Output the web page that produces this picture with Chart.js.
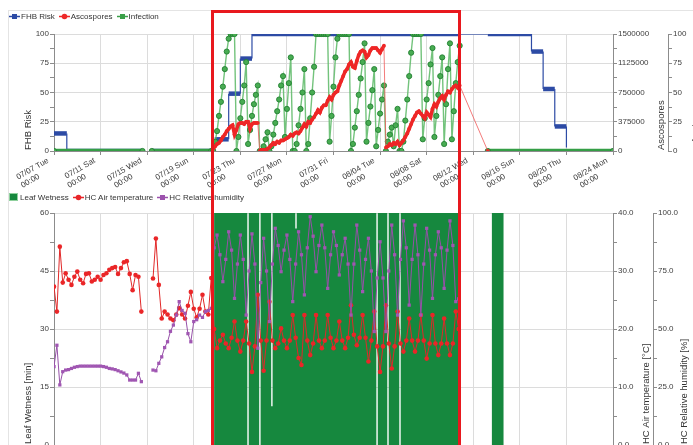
<!doctype html>
<html>
<head>
<meta charset="utf-8">
<title>FHB risk</title>
<script src="https://cdn.jsdelivr.net/npm/chart.js@4.4.1/dist/chart.umd.min.js"></script>
<style>
html, body {margin: 0; padding: 0; overflow: hidden; background: #fff}
body {position: relative; width: 693px; height: 445px; font: 8px "Liberation Sans", Arial, sans-serif; color: #333}
.panel {position: absolute; left: 8px; top: 10px; width: 700px; height: 500px; border-top: 1px solid #e4e4e4; border-left: 1px solid #e4e4e4}
.wrap {position: absolute; left: 0}
#top {top: 0; width: 703px; height: 196px}
#bottom {top: 200px; width: 693px; height: 300px}
.legend {position: absolute; left: 9px; height: 12px; display: flex; align-items: center; white-space: nowrap}
.legend span {display: flex; align-items: center; margin-right: 4px}
.legend svg {margin-right: 1px}
#box {position: absolute; left: 211px; top: 10px; width: 250px; height: 460px; border: 3px solid rgb(232, 24, 30); box-sizing: border-box}
</style>
</head>
<body>
<div class="panel"></div>
<div class="wrap" id="top"><canvas></canvas></div>
<div class="wrap" id="bottom"><canvas></canvas></div>
<div class="legend" style="top: 10px">
    <span><svg width="11" height="7"><line x1="0" y1="3.5" x2="11" y2="3.5" stroke="#2d4ba5" stroke-width="1.5"/><rect x="3" y="1" width="5" height="5" fill="#2d4ba5"/></svg>FHB Risk</span>
    <span><svg width="11" height="7"><line x1="0" y1="3.5" x2="11" y2="3.5" stroke="#ee2a2a" stroke-width="1.5"/><circle cx="5.5" cy="3.5" r="2.8" fill="#ee2a2a"/></svg>Ascospores</span>
    <span><svg width="11" height="7"><line x1="0" y1="3.5" x2="11" y2="3.5" stroke="#3aa048" stroke-width="1.5"/><rect x="3" y="1" width="5" height="5" fill="#3aa048"/></svg>Infection</span>
</div>
<div class="legend" style="top: 191px">
    <span><svg width="10" height="8"><rect x="0.5" y="0.5" width="8" height="7" fill="#16883e" stroke="#8fd09d"/></svg>Leaf Wetness</span>
    <span><svg width="11" height="7"><line x1="0" y1="3.5" x2="11" y2="3.5" stroke="#e8262a" stroke-width="1.5"/><circle cx="5.5" cy="3.5" r="2.8" fill="#e8262a"/></svg>HC Air temperature</span>
    <span><svg width="11" height="7"><line x1="0" y1="3.5" x2="11" y2="3.5" stroke="#9c52ad" stroke-width="1.5"/><rect x="3" y="1" width="5" height="5" fill="#9c52ad"/></svg>HC Relative humidity</span>
</div>
<div id="box"></div>
<script>
// x values are days after 07/07 00:00
let tickLabels = ['07/07 Tue', '07/11 Sat', '07/15 Wed', '07/19 Sun', '07/23 Thu', '07/27 Mon', '07/31 Fri',
    '08/04 Tue', '08/08 Sat', '08/12 Wed', '08/16 Sun', '08/20 Thu', '08/24 Mon']

// stretches with no records, drawn as a thin joining line
let dataGaps = [[34.83, 37.25]]

// FHB risk (%), change points
let riskDays = [0, 1.1, 1.1, 7.6, 8.0, 8.4, 13.8, 13.8, 15.0, 15.0, 16.0, 16.0, 17.0, 17.0, 34.83,
    37.25, 41.0, 41.0, 42.0, 42.0, 43.0, 43.0, 44.0, 44.0]
let riskValues = [15, 15, 0, 0, null, 0, 0, 10, 10, 49, 49, 79, 79, 100, 100,
    100, 100, 85, 85, 53, 53, 21, 21, 3]

// infection and ascospores inside the marked period, one value every 4 hours from day 13.5
let boxStart = 13.5
let infection = [
    0, 0, 8,
    17, 30, 42, 55, 70, 85,
    96, 100, 100, 100, 0, 12,
    28, 42, 56, 76, 6, 18,
    30, 40, 48, 56, 0, 0,
    4, 10, 16, 0, 4, 14,
    24, 34, 44, 56, 64, 12,
    36, 58, 80, 0, 0, 6,
    22, 36, 50, 70, 0, 6,
    28, 50, 72, 100, 100, 100,
    100, 100, 100, 100, 8, 30,
    55, 80, 96, 100, 100, 100,
    100, 100, 100, 0, 6, 20,
    34, 48, 62, 76, 92, 8,
    24, 38, 52, 70, 4, 18,
    32, 44, 56, 0, 8, 14,
    20, 4, 22, 36, 0, 0,
    8, 26, 44, 64, 84, 100,
    100, 100, 100, 100, 10, 28,
    44, 58, 74, 88, 12, 30,
    48, 64, 80, 6, 40, 70,
    92, 10, 34, 58, 76, 90
]
let ascospores = [
    null, 30000, 60000,
    90000, 105000, 135000, 180000, 210000, 255000,
    285000, 315000, 330000, 210000, 270000, 345000,
    360000, 360000, 345000, 375000, 375000, 285000,
    345000, 360000, 360000, 360000, 0, 15000,
    15000, 15000, 30000, 45000, 75000, 105000,
    90000, 120000, 105000, 135000, 135000, 150000,
    165000, 180000, 210000, 195000, 225000, 240000,
    225000, 255000, 300000, 345000, 315000, 375000,
    360000, 405000, 435000, 480000, 525000, 495000,
    555000, 585000, 585000, 645000, 690000, 660000,
    720000, 750000, 765000, 840000, 900000, 960000,
    1020000, 1050000, 1110000, 1140000, 1080000, 1065000,
    1155000, 1230000, 1275000, 1290000, 1275000, 1200000,
    1230000, 1290000, 1320000, 1320000, 1320000, 1290000,
    1260000, 1305000, 1350000, 45000, 60000, 90000,
    75000, 105000, 90000, 120000, 75000, 105000,
    135000, 180000, 225000, 285000, 345000, 405000,
    450000, 495000, 510000, 480000, 450000, 420000,
    495000, 465000, 435000, 540000, 600000, 570000,
    630000, 675000, 705000, 660000, 720000, 765000,
    750000, 795000, 825000, 840000, 810000, 840000
]
// infection and ascospores before and after the marked period
let infHeadDays = [0, 7.6, 8.0, 8.4]
let infHeadValues = [0, 0, null, 0]
let infTailDays = [36, 37.25, 48]
let infTailValues = [null, 0, 0]
let ascoTailDays = [37.25]
let ascoTailValues = [0]

// leaf wetness (min per hour), value holds until the next day listed
let lwDays = [0, 13.75, 16.6, 16.72, 17.62, 17.74, 18.65, 18.77, 20.72, 20.84, 27.68, 27.8,
    28.62, 28.74, 29.65, 29.77, 34.85, 37.6, 38.6, 48]
let lwMinutes = [0, 60, 0, 60, 0, 60, 10, 60, 56, 60, 0, 60,
    0, 60, 0, 60, 0, 60, 0, 0]

// air temperature (°C) and relative humidity (%), every 6 hours from day 0
let temperature = [
    27.3, 23.0, 34.2, 28.0,  29.6, 28.5, 27.6, 29.0,  29.9, 28.5, 27.9, 29.5,  29.6, 28.2, 28.5, 29.0,
    28.5, 29.3, 29.6, 30.2,  30.5, 30.7, 29.5, 30.5,  31.5, 31.7, 29.5, 26.7,  29.3, 29.0, 23.0, null,
    null, null, 28.7, 35.6,  27.6, 21.8, 23.0, 22.5,  21.8, 21.5, 22.5, 23.6,  22.5, 21.8, 24.0, 26.4,
    23.5, 22.0, 23.5, 25.9,  23.0, 22.5, 28.8, 20.0,  16.7, 18.0, 19.0, 17.5,  16.7, 18.5, 21.3, 18.0,
    16.1, 18.0, 21.3, 17.5,  12.6, 17.0, 25.9, 18.0,  12.8, 18.0, 24.7, 18.0,  16.7, 17.5, 20.1, 18.0,
    16.7, 18.0, 22.4, 18.5,  15.0, 13.8, 22.4, 18.0,  15.5, 17.5, 22.4, 18.0,  16.7, 18.0, 22.4, 18.5,
    16.7, 18.0, 21.3, 18.0,  16.7, 18.5, 24.1, 19.0,  17.2, 18.5, 22.4, 18.5,  14.4, 18.0, 23.0, 17.0,
    12.6, 17.0, 24.1, 17.5,  13.2, 17.0, 23.0, 17.5,  16.1, 18.0, 21.8, 18.0,  16.1, 18.0, 22.4, 18.0,
    14.9, 17.5, 22.4, 17.5,  15.5, 17.5, 21.8, 17.5,  15.5, 17.5, 23.0, 20.0
]
let humidity = [
    33.8, 43.0, 25.9, 31.6,  32.3, 32.5, 33.0, 33.5,  33.8, 34.0, 34.0, 34.0,  34.0, 34.0, 34.0, 34.0,
    34.0, 33.8, 33.5, 33.0,  32.8, 32.5, 32.0, 31.5,  31.0, 30.2, 28.0, 28.0,  28.0, 30.9, 27.3, null,
    null, null, 32.3, 32.0,  35.2, 38.0, 42.0, 44.5,  49.0, 51.7, 56.0, 61.8,  58.0, 56.8, 48.0, 44.5,
    53.2, 54.0, 56.0, 55.0,  57.5, 58.0, 58.9, 85.0,  90.5, 82.0, 70.4, 80.0,  91.9, 84.0, 63.2, 78.0,
    90.5, 80.0, 56.0, 75.0,  91.0, 78.0, 41.7, 70.0,  89.1, 75.0, 53.2, 78.0,  93.4, 86.0, 74.7, 84.0,
    90.5, 80.0, 61.8, 78.0,  91.9, 82.0, 64.7, 85.0,  98.4, 90.0, 74.7, 86.0,  94.8, 85.0, 67.5, 82.0,
    91.9, 86.0, 73.3, 82.0,  89.1, 78.0, 56.0, 78.0,  94.8, 84.0, 66.1, 80.0,  89.1, 75.0, 48.9, 72.0,
    87.6, 72.0, 48.9, 75.0,  94.8, 82.0, 56.0, 80.0,  96.6, 85.0, 60.3, 80.0,  94.8, 82.0, 56.0, 78.0,
    93.4, 84.0, 63.2, 82.0,  91.9, 85.0, 67.5, 84.0,  96.6, 86.0, 61.8, 63.0
]

function points(days, values) {
    return days.map((d, i) => ({x: d, y: values[i]}))
}
let boxDays = infection.map((v, i) => boxStart + i / 6)
let weatherDays = temperature.map((v, i) => i / 4)

function inGap(ctx) {
    return dataGaps.some(([a, b]) => ctx.p0.parsed.x >= a - 1e-6 && ctx.p1.parsed.x <= b + 1e-6)
}
function flat(ctx) {
    return ctx.p0.parsed.y === ctx.p1.parsed.y
}
// a sudden fall of the spore count is drawn as a thin line
function thinAsco(ctx) {
    return inGap(ctx) || ctx.p0.parsed.y - ctx.p1.parsed.y > 300000
}

Chart.defaults.font.family = '"Liberation Sans", Arial, sans-serif'
Chart.defaults.font.size = 8
Chart.defaults.color = '#404040'
Chart.defaults.animation = false

let gridColor = '#dcdcdc'
let axisColor = '#8c8c8c'
let labelFont = '8px "Liberation Sans", Arial, sans-serif'

function isMajor(v, major) {
    return Math.abs(v / major - Math.round(v / major)) < 1e-6
}

function valueAxis(o) {
    return {
        type: 'linear', position: o.position, min: o.min, max: o.max, weight: o.weight || 0,
        afterFit: function (scale) { scale.width = o.width },
        border: {color: axisColor},
        grid: {
            drawOnChartArea: !!o.grid, tickLength: 4, tickColor: axisColor,
            color: ctx => ctx.tick && isMajor(ctx.tick.value, o.major) ? gridColor : 'rgba(0,0,0,0)'
        },
        ticks: {stepSize: o.major / 2, padding: 1, callback: v => isMajor(v, o.major) ? o.format(v) : ''}
    }
}

function timeAxis(height) {
    return {
        type: 'linear', min: 0, max: 48,
        afterFit: function (scale) { scale.height = height },
        border: {color: axisColor},
        grid: {color: gridColor, tickColor: axisColor, tickLength: 4},
        ticks: {stepSize: 4, autoSkip: false, display: false}
    }
}

// two-line date labels, each line slanted and ending left of its tick
let timeLabels = {
    id: 'timeLabels',
    afterDraw(chart) {
        let scale = chart.scales.x
        let ctx = chart.ctx
        let top = chart.chartArea.bottom
        ctx.save()
        ctx.font = labelFont
        ctx.fillStyle = '#404040'
        ctx.textAlign = 'right'
        ctx.textBaseline = 'middle'
        tickLabels.forEach(function (label, i) {
            let x = scale.getPixelForValue(i * 4)
            for (let [text, dx, dy] of [[label, -6, 9], ['00:00', -15, 25]]) {
                ctx.save()
                ctx.translate(x + dx, top + dy)
                ctx.rotate(-Math.PI / 6)
                ctx.fillText(text, 0, 0)
                ctx.restore()
            }
        })
        ctx.restore()
    }
}

let axisTitles = {
    id: 'axisTitles',
    afterDraw(chart, args, opts) {
        let ctx = chart.ctx
        ctx.save()
        ctx.font = '9.5px "Liberation Sans", Arial, sans-serif'
        ctx.fillStyle = '#333'
        ctx.textAlign = 'left'
        ctx.textBaseline = 'middle'
        for (let item of opts.items) {
            ctx.save()
            ctx.translate(item.x, chart.chartArea.bottom - 1)
            ctx.rotate(-Math.PI / 2)
            ctx.fillText(item.text, 0, 0)
            ctx.restore()
        }
        ctx.restore()
    }
}

let blue = 'rgb(45, 75, 165)'
let red = 'rgb(238, 38, 38)'
let green = 'rgb(52, 158, 70)'
let lightGreen = 'rgba(100, 188, 110, 0.9)'

new Chart(document.querySelector('#top canvas'), {
    type: 'line',
    plugins: [axisTitles, timeLabels],
    data: {datasets: [
        {
            label: 'Ascospores', yAxisID: 'asco', order: 0,
            data: points(boxDays, ascospores).concat(points(ascoTailDays, ascoTailValues)),
            borderColor: red, borderWidth: 3.5,
            segment: {
                borderWidth: ctx => thinAsco(ctx) ? 1 : 3.5,
                borderColor: ctx => thinAsco(ctx) ? 'rgba(240, 90, 90, 0.8)' : red
            },
            pointRadius: 1.9, pointBackgroundColor: red, pointBorderWidth: 0
        },
        {
            label: 'Infection', yAxisID: 'inf', order: 1,
            data: points(infHeadDays, infHeadValues).concat(points(boxDays, infection), points(infTailDays, infTailValues)),
            borderColor: lightGreen, borderWidth: 1.4,
            segment: {
                borderWidth: ctx => flat(ctx) ? 4.5 : 1.4,
                borderColor: ctx => flat(ctx) ? green : lightGreen
            },
            pointRadius: 2.6, pointBackgroundColor: 'rgb(72, 172, 82)', pointBorderColor: 'rgb(35, 128, 50)', pointBorderWidth: 0.9
        },
        {
            label: 'FHB Risk', yAxisID: 'y', order: 2,
            data: points(riskDays, riskValues),
            borderColor: blue, borderWidth: 4,
            segment: {
                borderWidth: ctx => inGap(ctx) || !flat(ctx) ? 1.2 : 4.5
            },
            pointRadius: 0
        }
    ]},
    options: {
        responsive: true, maintainAspectRatio: false,
        layout: {padding: {top: 34, left: 0, right: 0, bottom: 0}},
        plugins: {
            legend: {display: false}, tooltip: {enabled: false},
            axisTitles: {items: [
                {text: 'FHB Risk', x: 28},
                {text: 'Ascospores', x: 661},
                {text: 'Infection', x: 696}
            ]}
        },
        scales: {
            x: timeAxis(45),
            y: valueAxis({position: 'left', min: 0, max: 100, major: 25, width: 54, grid: true, format: v => String(v)}),
            asco: valueAxis({position: 'right', min: 0, max: 1500000, major: 375000, width: 55, format: v => String(v)}),
            inf: valueAxis({position: 'right', min: 0, max: 100, major: 25, width: 35, weight: 1, format: v => String(v)})
        }
    }
})

new Chart(document.querySelector('#bottom canvas'), {
    type: 'line',
    plugins: [axisTitles, timeLabels],
    data: {datasets: [
        {
            label: 'HC Relative humidity', yAxisID: 'rh', order: 0,
            data: points(weatherDays, humidity),
            borderColor: 'rgb(150, 80, 168)', borderWidth: 1,
            pointStyle: 'rect', pointRadius: 2.3, pointBackgroundColor: 'rgb(160, 86, 178)', pointBorderWidth: 0
        },
        {
            label: 'HC Air temperature', yAxisID: 'temp', order: 1,
            data: points(weatherDays, temperature),
            borderColor: 'rgb(225, 40, 40)', borderWidth: 1,
            pointRadius: 2.3, pointBackgroundColor: 'rgb(234, 38, 40)', pointBorderWidth: 0
        },
        {
            label: 'Leaf Wetness', yAxisID: 'y', order: 2,
            data: points(lwDays, lwMinutes),
            stepped: true, fill: 'origin',
            backgroundColor: 'rgb(22, 136, 62)', borderColor: 'rgba(0,0,0,0)', borderWidth: 1,
            pointRadius: 0
        }
    ]},
    options: {
        responsive: true, maintainAspectRatio: false,
        layout: {padding: {top: 13, left: 0, right: 0, bottom: 0}},
        plugins: {
            legend: {display: false}, tooltip: {enabled: false},
            axisTitles: {items: [
                {text: 'Leaf Wetness [min]', x: 28},
                {text: 'HC Air temperature [°C]', x: 646},
                {text: 'HC Relative humidity [%]', x: 684}
            ]}
        },
        scales: {
            x: timeAxis(55),
            y: valueAxis({position: 'left', min: 0, max: 60, major: 15, width: 54, grid: true, format: v => String(v)}),
            temp: valueAxis({position: 'right', min: 0, max: 40, major: 10, width: 40, format: v => v.toFixed(1)}),
            rh: valueAxis({position: 'right', min: 0, max: 100, major: 25, width: 40, weight: 1, format: v => v.toFixed(1)})
        }
    }
})
</script>
</body>
</html>
